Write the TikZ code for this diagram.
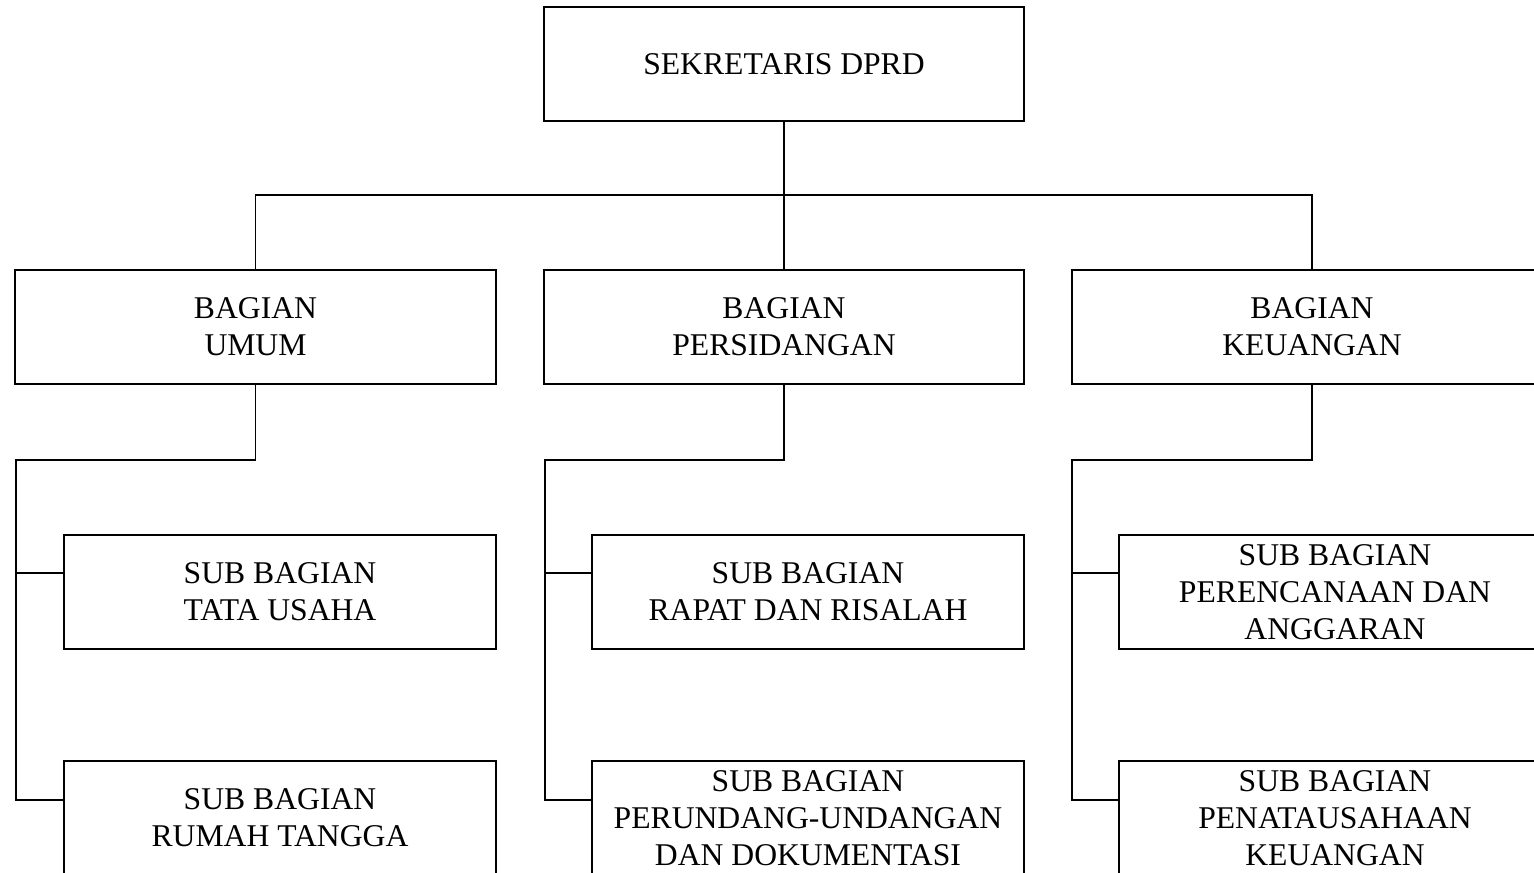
\documentclass[tikz,border=0pt]{standalone}
\usepackage{fontspec}
\setmainfont{Liberation Serif}
\usepackage{tikz}

\tikzset{
  unit/.style={draw, line width=0.6pt, minimum width=4.8cm, minimum height=1.14cm,
    inner sep=0pt, align=center, font=\fontsize{9}{10.5}\selectfont},
  subunit/.style={unit, minimum width=4.32cm},
  link/.style={line width=0.45pt}
}

\begin{document}
\begin{tikzpicture}[x=0.01cm,y=-0.01cm]
  \useasboundingbox (0,0) rectangle (1534,872);
  \clip (0,0) rectangle (1534,872);

  \draw (784,64) node[unit] (sekwan) {SEKRETARIS DPRD};

  \draw (255.5,327) node[unit] (umum) {BAGIAN\\UMUM};
  \draw (784,327) node[unit] (sidang) {BAGIAN\\PERSIDANGAN};
  \draw (1312,327) node[unit] (keu) {BAGIAN\\KEUANGAN};

  \draw (280,592) node[subunit] (tu) {SUB BAGIAN\\TATA USAHA};
  \draw (280,818) node[subunit] (rt) {SUB BAGIAN\\RUMAH TANGGA};
  \draw (808,592) node[subunit] (rapat) {SUB BAGIAN\\RAPAT DAN RISALAH};
  \draw (808,818) node[subunit] (uu) {SUB BAGIAN\\PERUNDANG-UNDANGAN\\DAN DOKUMENTASI};
  \draw (1335,592) node[subunit] (renc) {SUB BAGIAN\\PERENCANAAN DAN\\ANGGARAN};
  \draw (1335,818) node[subunit] (penat) {SUB BAGIAN\\PENATAUSAHAAN\\KEUANGAN};

  \coordinate (bus) at (784,195);
  \coordinate (c1) at (16,460);   \coordinate (c1a) at (16,573);  \coordinate (c1b) at (16,800);
  \coordinate (c2) at (545,460);  \coordinate (c2a) at (545,573); \coordinate (c2b) at (545,800);
  \coordinate (c3) at (1072,460); \coordinate (c3a) at (1072,573); \coordinate (c3b) at (1072,800);

  \draw[link] (sekwan) -- (bus) -- (sidang);
  \draw[link] (umum.north) |- (bus) -| (keu.north);

  \draw[link] (umum.south) |- (c1) -- (c1b) -- (rt.west |- c1b);
  \draw[link] (c1a) -- (tu.west |- c1a);
  \draw[link] (sidang.south) |- (c2) -- (c2b) -- (uu.west |- c2b);
  \draw[link] (c2a) -- (rapat.west |- c2a);
  \draw[link] (keu.south) |- (c3) -- (c3b) -- (penat.west |- c3b);
  \draw[link] (c3a) -- (renc.west |- c3a);
\end{tikzpicture}
\end{document}
